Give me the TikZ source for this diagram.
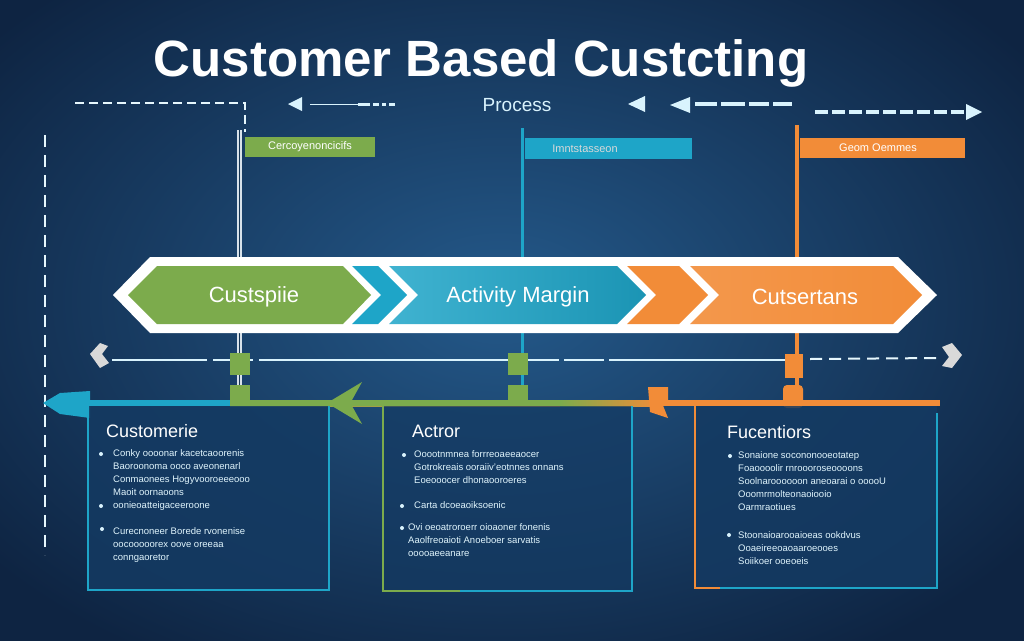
\documentclass[tikz,border=0pt]{standalone}
\usepackage{fontspec}
\setmainfont{Liberation Sans}
\usetikzlibrary{arrows.meta}
\definecolor{bgdark}{HTML}{0E2442}
\definecolor{bgmid}{HTML}{24598A}
\definecolor{cgreen}{HTML}{7CAB4C}
\definecolor{ccyan}{HTML}{1EA5C8}
\definecolor{corange}{HTML}{F28C38}
\definecolor{boxfill}{HTML}{143A62}
\definecolor{linegray}{HTML}{D8E2EA}
\tikzset{
  flagtext/.style={font=\fontsize{11}{12}\selectfont, text=white, inner sep=0pt},
  chevtext/.style={font=\fontsize{22}{24}\selectfont, text=white, inner sep=0pt},
  boxtitle/.style={font=\fontsize{18}{20}\selectfont, text=white, anchor=base west, inner sep=0pt},
  btext/.style={font=\fontsize{9.5}{13}\selectfont, text=white!88!cyan, anchor=north west, align=left, inner sep=0pt},
  bdot/.style={circle, fill=white!85!cyan, inner sep=0pt, minimum size=4pt},
  chev/.style={draw=white, line width=3pt, line join=miter},
  wdash/.style={draw=white!90!cyan, line width=2pt, dash pattern=on 9pt off 5pt},
}
\begin{document}
\begin{tikzpicture}[x=1pt,y=-1pt]
\useasboundingbox (0,0) rectangle (1024,640);
% background
\fill[bgdark] (0,0) rectangle (1024,640);
\shade[inner color=bgmid, outer color=bgdark] (-150,-120) rectangle (1150,720);

% title
\node[font=\fontsize{51}{56}\selectfont\bfseries, text=white, anchor=base, inner sep=0pt] (title) at (481,76) {Customer Based Custcting};
\node[font=\fontsize{19}{20}\selectfont, text=white!85!cyan, anchor=base, inner sep=0pt] (process) at (517,111) {Process};

% top dashed connectors
\coordinate (tl1) at (75,103);
\coordinate (tl2) at (245,103);
\coordinate (tl3) at (245,132);
\draw[wdash, line width=2.2pt] (tl1) -- (tl2) -- (tl3);
\coordinate (la) at (288,104);
\coordinate (lb) at (395,104);
\fill[white!85!cyan] (288,104) -- (302,97) -- (302,111) -- cycle;
\draw[white!85!cyan, line width=1pt] (310,104) -- (358,104);
\draw[white!85!cyan, line width=3pt, dash pattern=on 12pt off 3pt on 6pt off 3pt on 4pt off 3pt] (358,104) -- (lb);
\fill[white!85!cyan] (628,104) -- (645,96) -- (645,112) -- cycle;
\fill[white!85!cyan] (670,105) -- (690,97) -- (690,113) -- cycle;
\coordinate (ra) at (695,104);
\coordinate (rb) at (792,104);
\draw[white!85!cyan, line width=4pt, dash pattern=on 22pt off 4pt on 24pt off 4pt on 20pt off 4pt] (ra) -- (rb);
\coordinate (fa) at (815,112);
\coordinate (fb) at (968,112);
\draw[white!85!cyan, line width=4pt, dash pattern=on 13pt off 4pt] (fa) -- (fb);
\fill[white!85!cyan] (982,112) -- (966,104) -- (966,120) -- cycle;
% left vertical dashed
\coordinate (lv1) at (45,135);
\coordinate (lv2) at (45,555);
\draw[white!90!cyan, line width=2pt, dash pattern=on 12pt off 8pt] (lv1) -- (lv2);

% poles
\coordinate (p1t) at (239,130); \coordinate (p1b) at (239,396);
\coordinate (p2t) at (522,128); \coordinate (p2b) at (522,396);
\coordinate (p3t) at (797,125); \coordinate (p3b) at (797,396);
\draw[linegray, line width=5pt] (p1t) -- (p1b);
\draw[bgmid!60!black, line width=1pt] (p1t) -- (p1b);
\draw[ccyan, line width=3pt] (p2t) -- (p2b);
\draw[corange, line width=4pt] (p3t) -- (p3b);

% flags
\fill[cgreen] (245,137) rectangle (375,157);
\node[flagtext] (f1) at (310,147) {Cercoyenoncicifs};
\fill[ccyan] (525,138) rectangle (692,159);
\node[flagtext, text=white!85!black] (f2) at (585,148.5) {Imntstasseon};
\fill[corange] (800,138) rectangle (965,158);
\node[flagtext] (f3) at (878,148) {Geom Oemmes};

% chevron band
\fill[white] (113,295) -- (150,257) -- (898,257) -- (937,295) -- (898,333) -- (150,333) -- cycle;
\fill[cgreen] (128,295) -- (157,266) -- (343,266) -- (371,295) -- (343,324) -- (157,324) -- cycle;
\fill[ccyan] (352,266) -- (378,266) -- (407,295) -- (378,324) -- (352,324) -- (381,295) -- cycle;
\shade[left color=ccyan!85!white, right color=ccyan!90!black] (389,266) -- (617,266) -- (646,295) -- (617,324) -- (389,324) -- (418,295) -- cycle;
\fill[corange] (627,266) -- (679,266) -- (708,295) -- (679,324) -- (627,324) -- (656,295) -- cycle;
\shade[left color=corange!90!white, right color=corange] (690,266) -- (893,266) -- (922,295) -- (893,324) -- (690,324) -- (719,295) -- cycle;
\node[chevtext] (c1) at (254,297) {Custspiie};
\node[chevtext] (c2) at (518,297) {Activity Margin};
\node[chevtext] (c3) at (805,297) {Cutsertans};

% middle thin line with arrows
\coordinate (ml1) at (112,360);
\coordinate (ml2) at (790,360);
\coordinate (ml3) at (940,358);
\draw[white!85!cyan, line width=1.2pt, dash pattern=on 95pt off 6pt on 40pt off 6pt on 300pt off 5pt on 40pt off 5pt on 400pt] (ml1) -- (ml2);
\draw[white!90!cyan, line width=2pt, dash pattern=on 12pt off 7pt] (810,359) -- (ml3);
\fill[white!85!black] (90,354) -- (100,343) -- (108,346) -- (102,354) -- (109,363) -- (100,368) -- cycle;
\fill[white!85!black] (962,355) -- (952,343) -- (942,347) -- (949,357) -- (942,366) -- (952,368) -- cycle;

% connector blocks
\fill[cgreen] (230,353) rectangle (250,375);
\fill[cgreen] (230,385) rectangle (250,403);
\fill[cgreen] (508,353) rectangle (528,375);
\fill[cgreen] (508,385) rectangle (528,403);
\fill[corange] (785,354) rectangle (803,378);
\fill[corange, rounded corners=4pt] (783,385) rectangle (803,408);

% bottom bar
\coordinate (bb1) at (88,403);
\coordinate (bb2) at (230,403);
\coordinate (bb3) at (620,403);
\coordinate (bb4) at (940,403);
\draw[ccyan, line width=6pt] (bb1) -- (bb2);
\shade[left color=cgreen, right color=corange] (230,400) rectangle (660,406);
\draw[corange, line width=6pt] (655,403) -- (bb4);
\draw[cgreen, line width=6pt] (bb2) -- (560,403);
\shade[left color=cgreen, right color=corange] (560,400) rectangle (660,406);
\fill[ccyan] (43,403) -- (60,393) -- (90,391) -- (90,418) -- (60,414) -- cycle;
\fill[cgreen] (327,403) -- (362,382) -- (352,400) -- (368,403) -- (352,406) -- (362,424) -- cycle;
\fill[corange] (648,387) -- (668,387) -- (668,400) -- (662,403) -- (668,418) -- (650,412) -- cycle;

% boxes
\fill[boxfill, opacity=0.85] (88,406) rectangle (329,590);
\draw[ccyan, line width=2.5pt] (88,406) -- (88,590) -- (329,590) -- (329,406);
\fill[boxfill, opacity=0.7] (383,406) rectangle (632,591);
\draw[cgreen, line width=2.5pt] (383,406) -- (383,591) -- (460,591);
\draw[ccyan, line width=2.5pt] (460,591) -- (632,591) -- (632,406);
\fill[boxfill, opacity=0.85] (695,406) rectangle (937,588);
\draw[corange, line width=2.5pt] (695,406) -- (695,588) -- (720,588);
\draw[ccyan, line width=2.5pt] (720,588) -- (937,588) -- (937,413);

% box 1
\node[boxtitle] (t1) at (106,437) {Customerie};
\node[bdot] (d11) at (101,454) {};
\node[btext] (b11) at (113,449) {Conky oooonar kacetcaoorenis\\Baoroonoma ooco aveonenarl\\Conmaonees Hogyvooroeeeooo\\Maoit oornaoons};
\node[bdot] (d12) at (101,506) {};
\node[btext] (b12) at (113,501) {oonieoatteigaceeroone};
\node[bdot] (d13) at (102,529) {};
\node[btext] (b13) at (113,527) {Curecnoneer Borede rvonenise\\oocooooorex oove oreeaa\\conngaoretor};

% box 2
\node[boxtitle] (t2) at (412,437) {Actror};
\node[bdot] (d21) at (404,455) {};
\node[btext] (b21) at (414,450) {Ooootnmnea forrreoaeeaocer\\Gotrokreais ooraiiv'eotnnes onnans\\Eoeooocer dhonaooroeres};
\node[bdot] (d22) at (402,506) {};
\node[btext] (b22) at (414,501) {Carta dcoeaoiksoenic};
\node[bdot] (d23) at (402,528) {};
\node[btext] (b23) at (408,523) {Ovi oeoatroroerr oioaoner fonenis\\Aaolfreoaioti Anoeboer sarvatis\\ooooaeeanare};

% box 3
\node[boxtitle] (t3) at (727,438) {Fucentiors};
\node[bdot] (d31) at (730,456) {};
\node[btext] (b31) at (738,451) {Sonaione socononooeotatep\\Foaoooolir rnroooroseoooons\\Soolnaroooooon aneoarai o ooooU\\Ooomrmolteonaoiooio\\Oarmraotiues};
\node[bdot] (d32) at (729,535) {};
\node[btext] (b32) at (738,531) {Stoonaioarooaioeas ookdvus\\Ooaeireeoaoaaroeooes\\Soiikoer ooeoeis};
\end{tikzpicture}
\end{document}
